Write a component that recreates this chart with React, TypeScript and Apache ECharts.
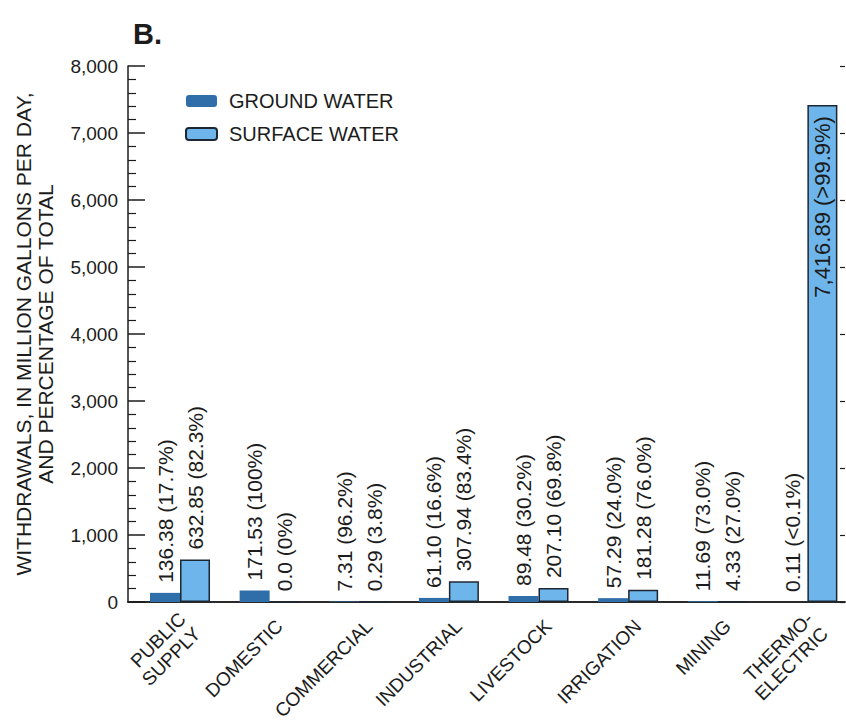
import { useEffect, useRef } from 'react';
import * as echarts from 'echarts';

// Water-use categories (x axis)
const categories = [
  'PUBLIC\nSUPPLY',
  'DOMESTIC',
  'COMMERCIAL',
  'INDUSTRIAL',
  'LIVESTOCK',
  'IRRIGATION',
  'MINING',
  'THERMO-\nELECTRIC',
];

// Withdrawals, in million gallons per day
const groundWater = [136.38, 171.53, 7.31, 61.1, 89.48, 57.29, 11.69, 0.11];
const surfaceWater = [632.85, 0.0, 0.29, 307.94, 207.1, 181.28, 4.33, 7416.89];

// Share of each category's total withdrawal
const groundShare = ['17.7%', '100%', '96.2%', '16.6%', '30.2%', '24.0%', '73.0%', '<0.1%'];
const surfaceShare = ['82.3%', '0%', '3.8%', '83.4%', '69.8%', '76.0%', '27.0%', '>99.9%'];

// Value axis range
const yMin = 0;
const yMax = 8000;
const yStep = 1000;

const FONT = "'Liberation Sans', Arial, Helvetica, sans-serif";
const INK = '#1c1c1c';
const GROUND = '#2f6ea9';
const SURFACE = '#6db5ea';

const fmt = (v: number) =>
  v === 0
    ? '0.0'
    : v.toLocaleString('en-US', { minimumFractionDigits: 2, maximumFractionDigits: 2 });

export default function App() {
  const ref = useRef<HTMLDivElement>(null);

  useEffect(() => {
    if (!ref.current) return;
    const chart = echarts.init(ref.current, null, { renderer: 'svg' });

    const barLabel = {
      show: true,
      position: 'top',
      distance: 10,
      rotate: 90,
      align: 'left',
      verticalAlign: 'middle',
      color: INK,
      fontFamily: FONT,
      fontSize: 21,
    };

    const surfaceData = surfaceWater.map((v) =>
      v > 5000
        ? {
            value: v,
            label: { position: 'insideTop', align: 'right', distance: 11, fontSize: 22 },
          }
        : v
    );

    chart.setOption({
      animation: false,
      backgroundColor: '#ffffff',
      title: {
        text: 'B.',
        left: 128,
        top: 14,
        textStyle: { fontFamily: FONT, fontSize: 29, fontWeight: 'bold', color: INK },
      },
      legend: {
        left: 180,
        top: 86,
        orient: 'vertical',
        itemWidth: 31,
        itemHeight: 12,
        itemGap: 13,
        data: ['GROUND WATER', 'SURFACE WATER'],
        textStyle: { fontFamily: FONT, fontSize: 20, color: INK, padding: [0, 0, 0, 7] },
      },
      grid: { left: 128, right: 1, top: 66, bottom: 123 },
      xAxis: [
        {
          type: 'category',
          data: categories,
          position: 'bottom',
          axisLine: { lineStyle: { color: INK, width: 1.5 } },
          axisTick: { show: false },
          axisLabel: {
            rotate: 45,
            margin: 38,
            padding: [0, -24, 0, 0],
            color: INK,
            fontFamily: FONT,
            fontSize: 19,
            lineHeight: 21,
            interval: 0,
          },
        },
        {
          type: 'category',
          data: categories,
          position: 'top',
          axisLine: { lineStyle: { color: INK, width: 1.5 } },
          axisTick: { show: false },
          axisLabel: { show: false },
        },
      ],
      yAxis: [
        {
          type: 'value',
          position: 'left',
          min: yMin,
          max: yMax,
          interval: yStep,
          name: 'WITHDRAWALS, IN MILLION GALLONS PER DAY,\nAND PERCENTAGE OF TOTAL',
          nameLocation: 'middle',
          nameRotate: 90,
          nameGap: 72,
          nameTextStyle: { fontFamily: FONT, fontSize: 21, color: INK, lineHeight: 22 },
          axisLine: { show: true, lineStyle: { color: INK, width: 1.5 } },
          axisTick: { show: true, inside: true, length: 17, lineStyle: { color: INK, width: 1.5 } },
          minorTick: { show: true, splitNumber: 5, length: 8, lineStyle: { color: INK, width: 1.2 } },
          splitLine: { show: false },
          axisLabel: {
            margin: 10,
            color: INK,
            fontFamily: FONT,
            fontSize: 19,
            formatter: (v: number) => v.toLocaleString('en-US'),
          },
        },
        {
          type: 'value',
          position: 'right',
          min: yMin,
          max: yMax,
          interval: yStep,
          axisLine: { show: false },
          axisTick: { show: true, inside: true, length: 5, lineStyle: { color: INK, width: 1.2 } },
          splitLine: { show: false },
          axisLabel: { show: false },
        },
      ],
      series: [
        {
          // empty lead-in slot so each pair of bars sits a little right of the tick
          type: 'bar',
          name: 'spacer',
          silent: true,
          barWidth: 14.4,
          barGap: 0,
          data: categories.map(() => '-'),
        },
        {
          type: 'bar',
          name: 'GROUND WATER',
          barWidth: 30,
          barGap: 0,
          data: groundWater,
          itemStyle: { color: GROUND },
          label: {
            ...barLabel,
            formatter: (p: any) => `${fmt(groundWater[p.dataIndex])} (${groundShare[p.dataIndex]})`,
          },
        },
        {
          type: 'bar',
          name: 'SURFACE WATER',
          barWidth: 30,
          barGap: 0,
          data: surfaceData,
          itemStyle: { color: SURFACE, borderColor: '#1d2733', borderWidth: 1.5 },
          label: {
            ...barLabel,
            formatter: (p: any) => `${fmt(surfaceWater[p.dataIndex])} (${surfaceShare[p.dataIndex]})`,
          },
        },
      ],
    });

    return () => chart.dispose();
  }, []);

  return (
    <div
      ref={ref}
      style={{ position: 'fixed', left: 0, top: 0, width: 846, height: 725, background: '#fff' }}
    />
  );
}
